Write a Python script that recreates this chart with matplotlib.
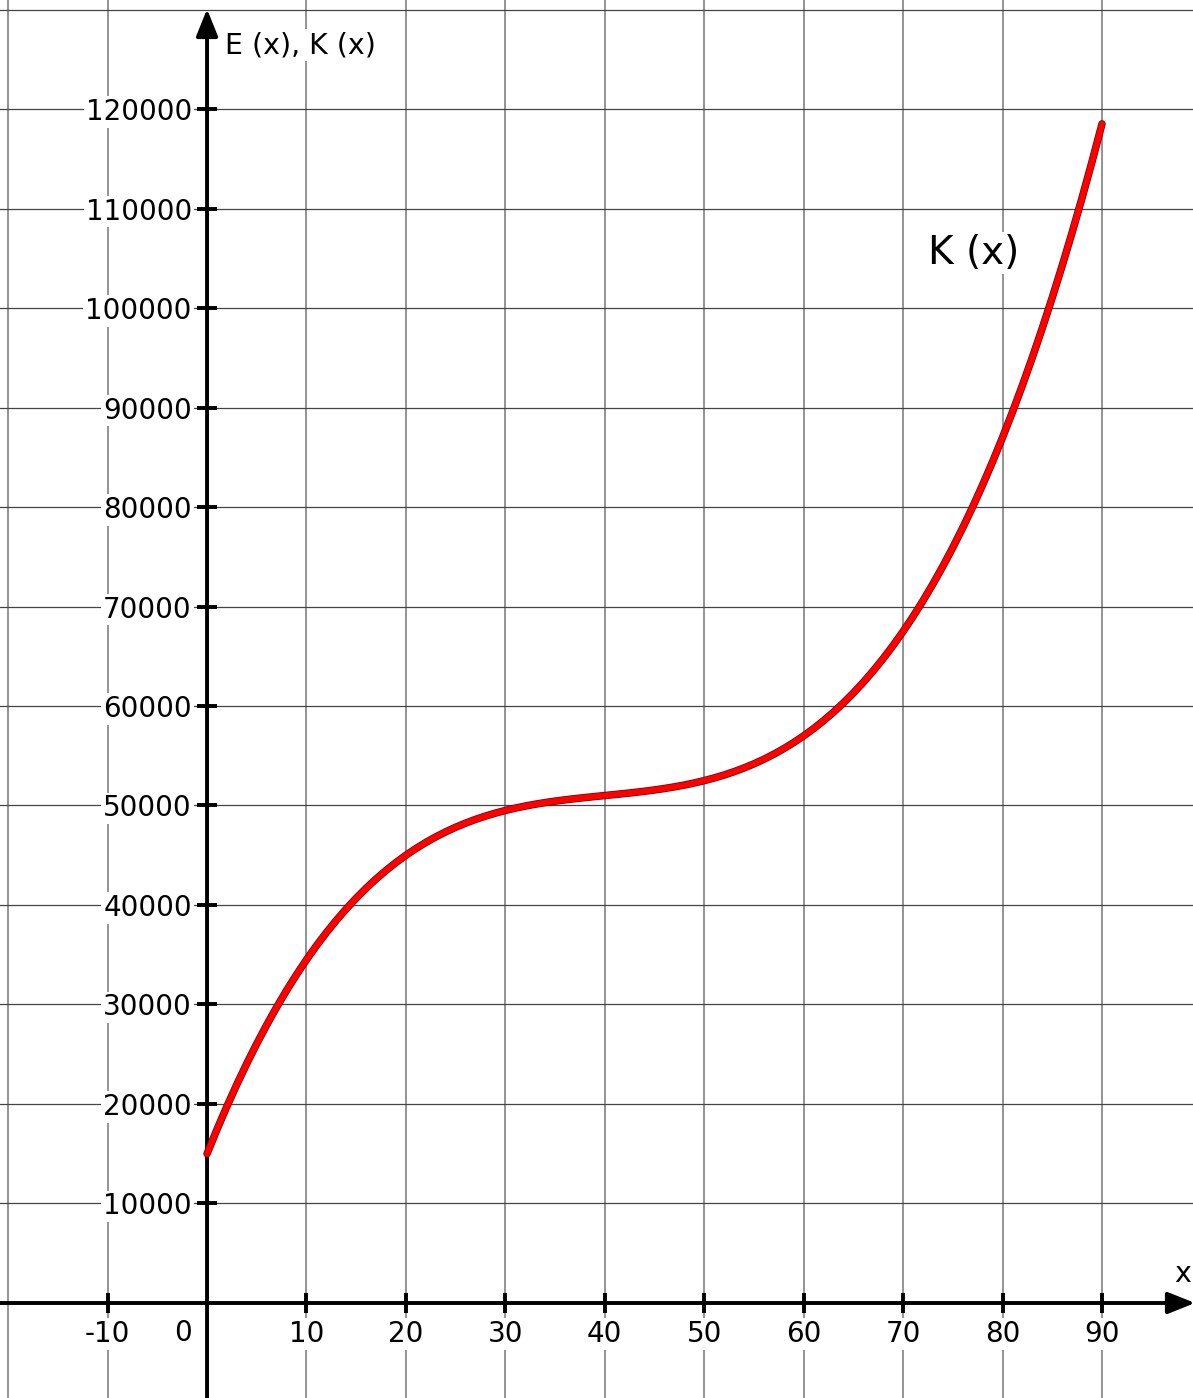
import matplotlib
matplotlib.use("Agg")
import matplotlib.pyplot as plt
import matplotlib.patheffects as pe

# K(x) values, x = 0, 1, ..., 90
x_vals = list(range(0, 91))
k_vals = [15000, 17441, 19764, 21974, 24072, 26063, 27948, 29732, 31416, 33005,
          34500, 35906, 37224, 38459, 39612, 40688, 41688, 42617, 43476, 44270,
          45000, 45671, 46284, 46844, 47352, 47813, 48228, 48602, 48936, 49235,
          49500, 49736, 49944, 50129, 50292, 50438, 50568, 50687, 50796, 50900,
          51000, 51101, 51204, 51314, 51432, 51563, 51708, 51872, 52056, 52265,
          52500, 52766, 53064, 53399, 53772, 54188, 54648, 55157, 55716, 56330,
          57000, 57731, 58524, 59384, 60312, 61313, 62388, 63542, 64776, 66095,
          67500, 68996, 70584, 72269, 74052, 75938, 77928, 80027, 82236, 84560,
          87000, 89561, 92244, 95054, 97992, 101063, 104268, 107612, 111096, 114725,
          118500]

x_ticks = [-10, 10, 20, 30, 40, 50, 60, 70, 80, 90]
x_tick_labels = ["-10", "10", "20", "30", "40", "50", "60", "70", "80", "90"]
y_ticks = [10000, 20000, 30000, 40000, 50000, 60000, 70000, 80000, 90000,
           100000, 110000, 120000]
y_tick_labels = [str(v) for v in y_ticks]
grid_x = [-20, -10, 10, 20, 30, 40, 50, 60, 70, 80, 90]
grid_y = [-10000, 10000, 20000, 30000, 40000, 50000, 60000, 70000, 80000, 90000,
          100000, 110000, 120000, 130000]

XMIN, XMAX = -20.82, 99.15
YMIN, YMAX = -9548, 130955

fig = plt.figure(figsize=(11.93, 13.98), dpi=100)
ax = fig.add_axes([0, 0, 1, 1])
ax.set_xlim(XMIN, XMAX)
ax.set_ylim(YMIN, YMAX)

for gx in grid_x:
    ax.axvline(gx, color="#777777", lw=1.1, zorder=1)
for gy in grid_y:
    ax.axhline(gy, color="#444444", lw=0.9, zorder=1)

for s in ["top", "right", "left", "bottom"]:
    ax.spines[s].set_visible(False)
ax.spines["left"].set_position(("data", 0))
ax.spines["bottom"].set_position(("data", 0))

arrow_style = "-|>,head_length=0.55,head_width=0.22"
ax.annotate("", xy=(0, 130000 + 50), xytext=(0, YMIN), annotation_clip=False,
            arrowprops=dict(arrowstyle=arrow_style, lw=2.8, color="black",
                            mutation_scale=30, shrinkA=0, shrinkB=0), zorder=5)
ax.annotate("", xy=(XMAX + 0.2, 0), xytext=(XMIN - 1, 0), annotation_clip=False,
            arrowprops=dict(arrowstyle=arrow_style, lw=2.8, color="black",
                            mutation_scale=30, shrinkA=0, shrinkB=0), zorder=5)

ax.set_xticks(x_ticks)
ax.set_xticklabels(x_tick_labels)
ax.set_yticks(y_ticks)
ax.set_yticklabels(y_tick_labels)
ax.tick_params(axis="both", direction="inout", length=14, width=2.8,
               labelsize=20, color="black")
ax.tick_params(axis="x", pad=5)
ax.tick_params(axis="y", pad=4)
for lab in ax.get_xticklabels() + ax.get_yticklabels():
    lab.set_bbox(dict(facecolor="white", edgecolor="none", pad=1.5))
    lab.set_zorder(4)

ax.annotate("0", xy=(0, 0), xytext=(-24, -30), textcoords="offset pixels",
            ha="center", va="center", fontsize=20,
            bbox=dict(facecolor="white", edgecolor="none", pad=1.5))

ax.plot(x_vals, k_vals, color="#ff0000", lw=4.4, solid_capstyle="round",
        solid_joinstyle="round", zorder=6,
        path_effects=[pe.Stroke(linewidth=5.4, foreground="#6a0000"), pe.Normal()])

ax.text(1.8, 126400, "E (x), K (x)", fontsize=20.5, ha="left", va="center",
        bbox=dict(facecolor="white", edgecolor="none", pad=1.5), zorder=4)
ax.text(77.1, 105500, "K (x)", fontsize=28, ha="center", va="center",
        bbox=dict(facecolor="white", edgecolor="none", pad=1.5), zorder=4)
ax.text(98.1, 2900, "x", fontsize=20.5, ha="center", va="center",
        bbox=dict(facecolor="white", edgecolor="none", pad=1.5), zorder=4)

fig.savefig("out.png", dpi=100)
